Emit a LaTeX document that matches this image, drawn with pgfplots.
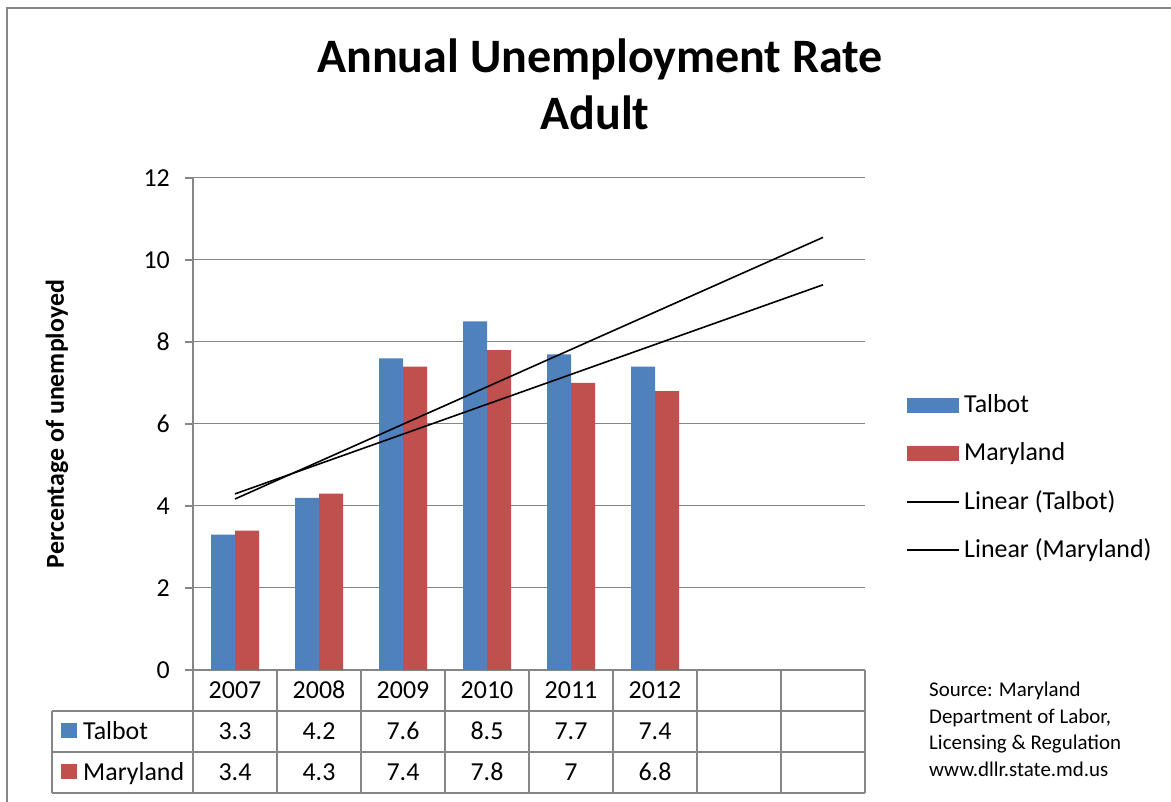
\documentclass[border=0pt]{standalone}
\usepackage{fontspec}
\setmainfont{Carlito}
\usepackage{pgfplots}
\pgfplotsset{compat=1.18}
\definecolor{talbot}{HTML}{4F81BD}
\definecolor{maryland}{HTML}{C0504D}
\definecolor{gridgray}{HTML}{868686}
\begin{document}
\begin{tikzpicture}
\useasboundingbox (0bp,0bp) rectangle (1171bp,802bp);
\begin{axis}[
  at={(193bp,132bp)}, anchor=south west,
  scale only axis, width=672bp, height=492bp,
  xmin=0.5, xmax=8.5, ymin=0, ymax=12,
  axis x line*=bottom, axis y line*=left,
  xtick=\empty,
  ytick={0,2,4,6,8,10,12},
  ymajorgrids, grid style={gridgray, line width=1bp},
  axis line style={gridgray, line width=1.2bp, -},
  tick align=outside, major tick length=8bp,
  ytick style={gridgray, line width=1.2bp},
  yticklabel style={font=\fontsize{26}{31}\selectfont, inner sep=0pt, anchor=east, xshift=-15bp},
  /pgf/number format/assume math mode=true,
  ylabel={Percentage of unemployed},
  ylabel style={font=\fontsize{26}{31}\selectfont\bfseries, at={(axis description cs:-0.2024,0.5)}, anchor=center},
  clip=false,
]
\addplot[ybar, bar width=24bp, bar shift=-12bp, fill=talbot, draw=none]
  coordinates {(1,3.3) (2,4.2) (3,7.6) (4,8.5) (5,7.7) (6,7.4)};
\addplot[ybar, bar width=24bp, bar shift=12bp, fill=maryland, draw=none]
  coordinates {(1,3.4) (2,4.3) (3,7.4) (4,7.8) (5,7.0) (6,6.8)};
% linear trendlines (least-squares fits of the two series, x = 1..8)
\addplot[sharp plot, black, line width=1.6bp, no marks]
  coordinates {(1,4.1714) (8,10.5514)};
\addplot[sharp plot, black, line width=1.6bp, no marks]
  coordinates {(1,4.2952) (8,9.3952)};
\end{axis}
\begin{scope}[yshift=802bp, x=1bp, y=-1bp]
% outer chart frame
\draw[gridgray, line width=1.5bp] (7,810) -- (7,8) -- (1180,8);
% title
\node[font=\fontsize{48.2}{57}\selectfont\bfseries, anchor=base, inner sep=0pt] at (600,73) {Annual Unemployment Rate};
\node[font=\fontsize{48.2}{57}\selectfont\bfseries, anchor=base, inner sep=0pt] at (595,130) {Adult};
% legend
\begin{scope}[font=\fontsize{26}{31}\selectfont]
\fill[talbot] (907,398) rectangle (959,413);
\fill[maryland] (907,446) rectangle (959,461);
\draw[black, line width=1.6bp] (907,502) -- (959,502);
\draw[black, line width=1.6bp] (907,550) -- (959,550);
\node[anchor=base west, inner sep=0pt] at (964,413) {Talbot};
\node[anchor=base west, inner sep=0pt] at (964,461) {Maryland};
\node[anchor=base west, inner sep=0pt] at (964,510) {Linear (Talbot)};
\node[anchor=base west, inner sep=0pt] at (964,558) {Linear (Maryland)};
\end{scope}
% data table
\begin{scope}[gridgray, line width=1.5bp]
\foreach \yy in {711,752,793} \draw (52,\yy) -- (865,\yy);
\draw (52,711) -- (52,793);
\foreach \k in {0,...,8} \draw ({193+84*\k},670) -- ({193+84*\k},793);
\end{scope}
\begin{scope}[font=\fontsize{26}{31}\selectfont]
\foreach \i/\yr/\t/\m in {1/2007/3.3/3.4, 2/2008/4.2/4.3, 3/2009/7.6/7.4, 4/2010/8.5/7.8, 5/2011/7.7/7, 6/2012/7.4/6.8} {
  \node[anchor=base] at ({193+84*\i-42},699) {\yr};
  \node[anchor=base] at ({193+84*\i-42},740) {\t};
  \node[anchor=base] at ({193+84*\i-42},781) {\m};
}
\fill[talbot] (61,723) rectangle (77,738);
\fill[maryland] (61,764) rectangle (77,779);
\node[anchor=base west, inner sep=0pt] at (83,740) {Talbot};
\node[anchor=base west, inner sep=0pt] at (83,781) {Maryland};
\end{scope}
% source note
\node[anchor=base west, inner sep=0pt, font=\fontsize{21}{26}\selectfont] at (929,697) {Source: Maryland};
\node[anchor=base west, inner sep=0pt, font=\fontsize{21}{26}\selectfont] at (929,723.5) {Department of Labor,};
\node[anchor=base west, inner sep=0pt, font=\fontsize{21}{26}\selectfont] at (929,750) {Licensing \& Regulation};
\node[anchor=base west, inner sep=0pt, font=\fontsize{21}{26}\selectfont] at (929,776.5) {www.dllr.state.md.us};
\end{scope}
\end{tikzpicture}
\end{document}
